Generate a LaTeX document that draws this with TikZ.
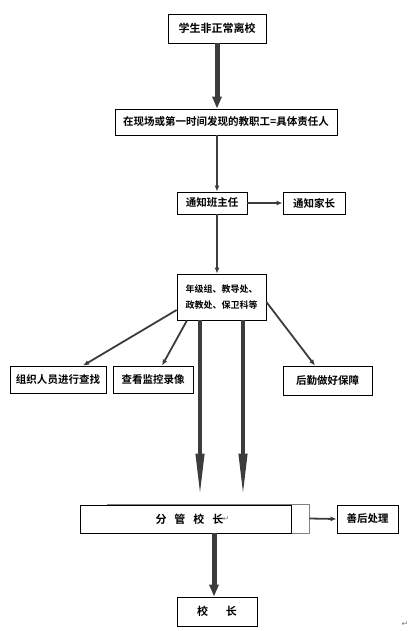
\documentclass[tikz,border=0pt]{standalone}
\usepackage{fontspec}
\newfontfamily\cjk{Noto Sans CJK SC}[BoldFont={Noto Sans CJK SC Bold}]
\newfontfamily\sym{DejaVu Sans}
\usetikzlibrary{arrows.meta,calc}
\definecolor{arr}{HTML}{3C3C3C}
\tikzset{
  box/.style={draw=black, line width=0.8pt, fill=white, inner sep=0pt, align=center,
    font=\cjk\bfseries\fontsize{10.5}{13}\selectfont},
  thin/.style={draw=arr, line width=1.8pt, -{Latex[length=6pt,width=5pt]}},
  thick/.style={draw=arr, line width=5pt, -{Triangle[length=12pt,width=9pt]}},
  longtip/.style={draw=arr, line width=4pt, -{Triangle[length=44pt,width=8pt]}},
  ret/.style={text=gray, font=\sym\fontsize{8}{8}\selectfont, inner sep=0pt}
}
\begin{document}
\begin{tikzpicture}[x=1pt,y=-1pt]
\useasboundingbox (0,0) rectangle (418,631);
\node[box, minimum width=98pt, minimum height=29pt, font=\cjk\bfseries\fontsize{11}{13}\selectfont] (b1) at (217,28.5) {学生非正常离校};
\node[box, minimum width=222pt, minimum height=26pt] (b2) at (226,122) {在现场或第一时间发现的教职工=具体责任人};
\node[box, minimum width=70pt, minimum height=22pt] (b3) at (212,203) {通知班主任};
\node[box, minimum width=62pt, minimum height=22pt] (b3r) at (314,203) {通知家长};
\node[box, minimum width=89pt, minimum height=46pt, font=\cjk\bfseries\fontsize{9}{16}\selectfont] (b4) at (221.5,297) {年级组、教导处、\\政教处、保卫科等};
\node[box, minimum width=96pt, minimum height=27pt] (b5) at (58,379.5) {组织人员进行查找};
\node[box, minimum width=80pt, minimum height=27pt] (b6) at (153,379.5) {查看监控录像};
\node[box, minimum width=89pt, minimum height=29pt] (b7) at (327.5,380.5) {后勤做好保障};
\node[box, draw=gray, minimum width=202pt, minimum height=29pt] (b8s) at (208,518.5) {};
\node[box, minimum width=211pt, minimum height=28pt, font=\cjk\bfseries\fontsize{11}{13}\selectfont] (b8) at (185.5,519) {\hspace{8pt}分\hspace{8pt}管\hspace{8pt}校\hspace{8pt}长};
\node[ret] (r1) at (226,519) {↵};
\node[box, minimum width=61pt, minimum height=28pt] (b9) at (367.5,519) {善后处理};
\node[box, minimum width=80pt, minimum height=29pt, font=\cjk\bfseries\fontsize{11}{13}\selectfont] (b10) at (217,611.5) {校\hspace{18pt}长};
\node[ret] (r2) at (405,624) {↵};

\coordinate (t1) at ([xshift=-21.5pt]b4.south);
\coordinate (t2) at ([xshift=21.5pt]b4.south);
\coordinate (t3) at (214,533);

\draw[thick] (b1.south) -- (b2.north -| b1.south);
\draw[thin] (b2.south -| b1.south) -- (b3.north -| b1.south);
\draw[thin] (b3.east) -- (b3r.west);
\draw[thin] (b3.south -| b1.south) -- (b4.north -| b1.south);
\draw[thin] ([yshift=-13pt]b4.west) -- ([xshift=25pt]b5.north);
\draw[thin] ([xshift=-34.5pt]b4.south) -- ([xshift=9pt]b6.north);
\draw[thin] ([yshift=-5pt]b4.east) -- ([xshift=-12.5pt]b7.north);
\draw[longtip, shorten >=7pt] (t1) -- (b8.north -| t1);
\draw[longtip, shorten >=7pt] (t2) -- (b8.north -| t2);
\draw[thin] (b8s.east) -- (b9.west);
\draw[thick] (t3) -- (b10.north -| t3);
\end{tikzpicture}
\end{document}
